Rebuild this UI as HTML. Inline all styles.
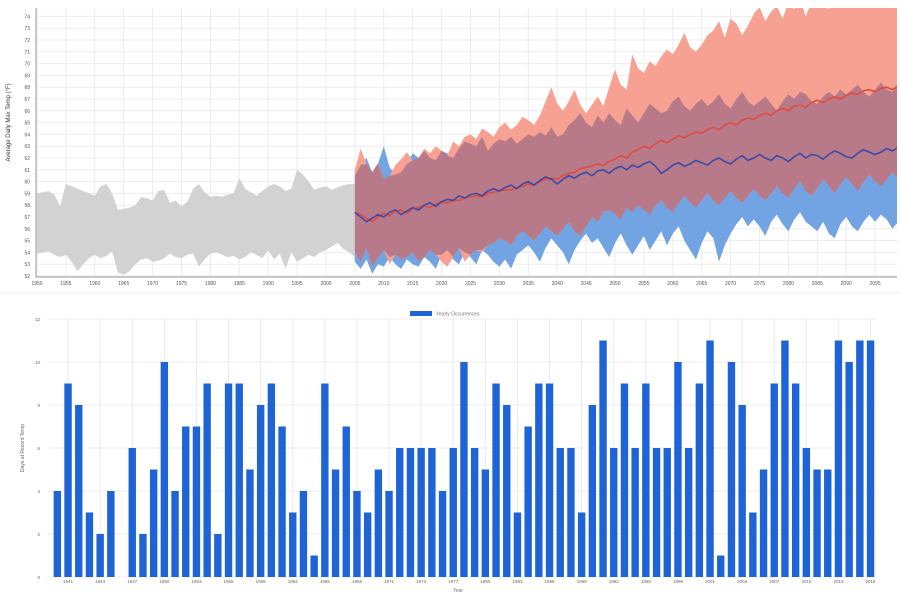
<!DOCTYPE html>
<html><head><meta charset="utf-8"><style>
html,body{margin:0;padding:0;background:#fff;width:900px;height:600px;overflow:hidden}
svg{display:block;font-family:"Liberation Sans",sans-serif}
</style></head><body>
<svg id="root" width="900" height="600" viewBox="0 0 900 600">
<g id="topChart"></g>
<line x1="0" y1="293" x2="900" y2="293" stroke="#eee"/>
<g id="botChart"></g>
</svg>
<script>
// ---- Top chart data ----
const histStart = 1950;
const histUpper = [59.0,59.1,59.2,58.9,57.9,59.8,59.6,59.4,59.2,59.0,58.8,59.6,59.8,59.0,57.6,57.7,57.8,58.0,58.7,58.6,58.4,59.2,59.3,58.2,58.4,57.9,58.3,59.4,59.8,59.1,58.7,58.8,58.7,58.9,59.0,60.3,59.4,59.1,58.8,59.2,59.6,59.8,59.6,59.2,59.4,61.0,60.6,60.0,59.3,59.5,59.6,59.3,59.5,59.7,59.8,59.8];
const histLower = [53.9,54.0,54.1,53.8,53.6,53.8,53.2,52.4,53.0,53.5,53.8,53.5,53.7,54.1,52.3,52.1,52.4,53.0,53.4,53.5,53.2,53.3,53.5,53.9,53.6,53.5,53.8,53.9,52.8,53.4,53.9,54.0,53.8,53.6,53.7,53.4,53.6,54.0,53.8,53.5,54.2,53.4,53.9,52.6,54.0,53.2,53.5,53.8,53.6,54.0,54.2,54.5,54.8,54.3,54.0,53.6];
const projStart = 2005;
const highUpper = [61.0,62.8,61.5,60.8,61.6,60.2,60.5,61.4,61.9,62.5,61.8,62.0,62.8,62.4,63.0,62.6,62.2,63.4,63.0,63.8,64.0,63.6,64.5,64.2,63.8,64.6,65.0,64.4,64.8,65.5,65.2,64.8,65.6,66.8,68.0,66.6,66.0,66.8,67.8,66.5,65.8,66.5,67.2,66.4,68.0,69.5,68.2,67.8,70.8,69.6,69.2,70.2,69.8,70.6,71.2,70.8,71.6,72.6,71.4,71.0,71.6,72.4,72.8,73.6,72.2,73.8,73.4,72.4,73.2,74.2,74.8,73.6,74.4,74.9,73.8,75.2,74.6,75.6,74.0,75.2,75.8,75.0,74.6,75.4,76.0,75.2,75.6,75.0,76.2,75.4,75.8,75.2,76.0,75.5,75.9,76.2];
const highLower = [54.0,53.2,54.4,52.8,53.6,54.2,53.0,53.8,53.4,53.6,54.0,53.2,53.6,54.2,53.8,53.2,52.8,53.6,54.4,53.2,53.8,54.2,54.0,54.6,54.8,55.2,55.0,54.6,55.4,55.8,55.4,55.0,55.6,56.2,55.8,55.4,56.0,56.6,55.8,55.4,56.2,57.0,56.6,57.4,57.6,57.2,56.8,57.8,57.4,58.0,57.6,57.2,58.0,58.4,57.8,57.4,58.2,58.8,58.2,57.8,58.4,59.0,58.4,58.0,58.6,59.2,58.6,58.2,58.8,59.4,58.8,58.4,59.0,59.6,59.0,58.6,59.4,60.0,59.2,58.8,59.4,60.2,59.6,59.0,59.8,60.4,59.8,59.2,60.0,60.6,60.0,59.6,60.2,60.8,60.2,60.6];
const lowUpper = [60.5,61.4,62.0,60.8,61.5,63.0,61.2,60.6,60.8,61.5,62.4,62.0,62.6,62.0,61.8,62.6,62.4,62.0,62.8,63.4,63.2,63.0,63.8,62.6,63.2,63.6,63.4,63.8,63.2,63.6,64.0,63.8,64.2,63.9,64.6,63.8,64.0,64.8,65.2,65.8,65.0,64.6,65.6,65.0,65.8,65.2,64.8,66.2,65.6,65.0,65.8,66.6,66.2,65.8,66.0,66.8,67.2,66.4,66.0,66.6,67.0,66.4,66.8,67.4,66.6,66.2,67.0,67.6,66.8,66.4,66.8,67.2,66.6,66.0,66.8,67.4,67.0,67.6,67.4,66.8,66.6,67.2,67.6,67.2,67.8,67.4,67.8,68.2,67.6,67.2,67.8,68.4,67.8,67.6,68.2,68.0];
const lowLower = [53.2,52.6,53.4,52.2,53.0,52.8,53.6,53.0,52.6,53.4,53.0,52.8,53.6,53.2,52.6,53.8,54.2,53.4,53.0,54.0,53.6,53.0,54.2,53.8,53.2,52.8,53.4,52.6,53.8,54.2,54.6,54.0,53.2,54.4,55.2,54.6,54.0,53.0,54.2,55.0,55.6,54.8,55.2,54.4,53.6,54.8,55.6,54.6,53.8,54.6,55.4,54.2,55.0,55.8,54.6,55.6,56.2,55.0,54.2,53.4,54.8,55.8,55.2,53.2,54.6,55.6,56.4,57.0,56.2,56.8,56.2,55.4,56.6,57.2,56.4,55.8,56.8,57.4,56.6,56.2,55.8,56.6,55.6,55.2,56.4,57.0,56.2,55.8,56.6,57.2,56.6,57.2,56.8,56.0,56.6,57.4];
const highMean = [57.4,57.2,56.9,56.6,57.0,57.3,57.1,57.5,57.6,57.3,57.7,57.8,58.0,57.8,58.1,58.3,58.2,58.4,58.4,58.6,58.7,58.8,58.7,59.0,59.1,59.2,59.3,59.3,59.5,59.6,59.8,59.7,60.0,60.2,60.3,60.2,60.5,60.7,60.8,61.1,61.2,61.3,61.5,61.4,61.7,61.9,62.2,62.0,62.5,62.7,63.0,62.8,63.2,63.5,63.3,63.6,63.9,63.7,64.0,64.2,64.1,64.4,64.6,64.4,64.8,65.0,64.8,65.2,65.4,65.3,65.6,65.8,65.6,66.0,66.2,66.0,66.4,66.5,66.3,66.7,66.9,66.7,67.0,67.2,67.0,67.3,67.5,67.4,67.7,67.8,67.6,67.9,68.0,67.8,68.1,68.3];
const lowMean = [57.4,57.0,56.6,56.9,57.2,57.0,57.4,57.6,57.2,57.5,57.8,57.6,58.0,58.2,57.9,58.3,58.5,58.4,58.8,58.6,58.9,59.0,58.8,59.2,59.4,59.2,59.5,59.7,59.4,59.8,60.0,59.7,60.1,60.4,60.2,59.8,60.2,60.5,60.3,60.6,60.8,60.5,60.9,61.0,60.7,61.1,61.3,61.0,61.4,61.2,61.5,61.7,61.3,60.7,61.0,61.4,61.6,61.3,61.5,61.8,61.6,61.4,61.8,62.0,61.7,61.5,61.9,62.2,61.8,62.0,62.3,62.0,61.8,62.2,62.0,61.7,62.1,62.4,62.0,62.3,62.2,61.9,62.3,62.6,62.4,62.1,62.0,62.4,62.7,62.5,62.3,62.5,62.8,62.6,62.9,63.2];
const topYTicks = [52,53,54,55,56,57,58,59,60,61,62,63,64,65,66,67,68,69,70,71,72,73,74];
const topXTicks = [1950,1955,1960,1965,1970,1975,1980,1985,1990,1995,2000,2005,2010,2015,2020,2025,2030,2035,2040,2045,2050,2055,2060,2065,2070,2075,2080,2085,2090,2095];

// ---- Bottom chart data ----
const barStart = 1940;
const barValues = [4,9,8,3,2,4,0,6,2,5,10,4,7,7,9,2,9,9,5,8,9,7,3,4,1,9,5,7,4,3,5,4,6,6,6,6,4,6,10,6,5,9,8,3,7,9,9,6,6,3,8,11,6,9,6,9,6,6,10,6,9,11,1,10,8,3,5,9,11,9,6,5,5,11,10,11,11];
const botYTicks = [0,2,4,6,8,10,12];

const NS='http://www.w3.org/2000/svg';
function mk(parent,tag,attrs,text){const e=document.createElementNS(NS,tag);for(const k in attrs)e.setAttribute(k,attrs[k]);if(text!==undefined)e.textContent=text;parent.appendChild(e);return e;}

// Top scales
const TL=36,TR=897,TT=8,TB=277;
const tx=yr=>37+(yr-1950)*5.78;
const ty=v=>276-(v-52)*11.8;
const topG=document.getElementById('topChart');
const clip=mk(topG,'clipPath',{id:'tc'});mk(clip,'rect',{x:TL,y:TT,width:TR-TL,height:TB-TT});
topYTicks.forEach(v=>{
 const l=mk(topG,'line',{x1:TL,x2:TR,y1:ty(v),y2:ty(v),stroke:'#ececec'});
 
 
 const t=mk(topG,'text',{x:TL-6,y:ty(v)+2,'font-size':5,fill:'#555','text-anchor':'end'},v);
 
 
});
topXTicks.forEach(yr=>{
 const l=mk(topG,'line',{x1:tx(yr),x2:tx(yr),y1:TT,y2:TB,stroke:'#ececec'});
 
 
 const t=mk(topG,'text',{x:tx(yr),y:TB+8,'font-size':5,fill:'#555','text-anchor':'middle'},yr);
 
 
});
function band(up,lo,start){
 let d='';up.forEach((v,i)=>{d+=(i?'L':'M')+tx(start+i).toFixed(1)+','+ty(v).toFixed(1);});
 for(let i=lo.length-1;i>=0;i--)d+='L'+tx(start+i).toFixed(1)+','+ty(lo[i]).toFixed(1);
 return d+'Z';
}
function pline(vals,start){let d='';vals.forEach((v,i)=>{d+=(i?'L':'M')+tx(start+i).toFixed(1)+','+ty(v).toFixed(1);});return d;}
const plotG=mk(topG,'g',{'clip-path':'url(#tc)'});
const hb=mk(plotG,'path',{d:band(histUpper,histLower,histStart),fill:'#d2d2d2'});


const lb=mk(plotG,'path',{d:band(lowUpper,lowLower,projStart),fill:'#72a3e3'});


const rb=mk(plotG,'path',{d:band(highUpper,highLower,projStart),fill:'#f7a192'});


const ovU=highUpper.map((v,i)=>Math.min(v,lowUpper[i]));
const ovL=highLower.map((v,i)=>Math.max(v,lowLower[i]));
const ob=mk(plotG,'path',{d:band(ovU,ovL,projStart),fill:'#b87a88'});


const rl=mk(plotG,'path',{d:pline(highMean,projStart),fill:'none',stroke:'#e24a3e','stroke-width':1.6});


const bl=mk(plotG,'path',{d:pline(lowMean,projStart),fill:'none',stroke:'#3d4aa8','stroke-width':1.6});


const ax1=mk(topG,'path',{d:`M${TL},${TT}V${TB}H${TR}`,fill:'none',stroke:'#999','stroke-width':1});


const yt=mk(topG,'text',{transform:`translate(10,${(TT+TB)/2-20}) rotate(-90)`,'font-size':6,fill:'#333','text-anchor':'middle'},'Average Daily Max Temp (°F)');



// Bottom
const BL=52,BW=10.7,B0=577,BU=21.5;
const by=v=>B0-v*BU;
const botG=document.getElementById('botChart');
botYTicks.forEach(v=>{
 const l=mk(botG,'line',{x1:BL-5,x2:BL+77*BW,y1:by(v),y2:by(v),stroke:'#ececec'});
 
 
 const t=mk(botG,'text',{x:BL-12,y:by(v)+2,'font-size':4.5,fill:'#666','text-anchor':'end'},v);
 
 
});
barValues.forEach((v,i)=>{
 const cx=BL+(i+0.5)*BW;
 if(i%3===1){
  const l=mk(botG,'line',{x1:cx,x2:cx,y1:by(12),y2:B0,stroke:'#ececec'});
  
  
  const t=mk(botG,'text',{x:cx,y:B0+6,'font-size':4.5,fill:'#666','text-anchor':'middle'},barStart+i);
  
  
 }
});
barValues.forEach((v,i)=>{
 const cx=BL+(i+0.5)*BW;
 const r=mk(botG,'rect',{x:cx-3.7,y:by(v),width:7.4,height:v*BU,fill:'#1f64d6'});
 
 
});
const lg=mk(botG,'rect',{x:410,y:311,width:22,height:5,fill:'#1f64d6'});


const lt=mk(botG,'text',{x:436,y:315.5,'font-size':5,fill:'#777'},'Yearly Occurrences');


const byt=mk(botG,'text',{transform:'translate(24,448) rotate(-90)','font-size':5,fill:'#666','text-anchor':'middle'},'Days at Record Temp');


const bxt=mk(botG,'text',{x:458,y:592,'font-size':5,fill:'#777','text-anchor':'middle'},'Year');


</script>
</body></html>
